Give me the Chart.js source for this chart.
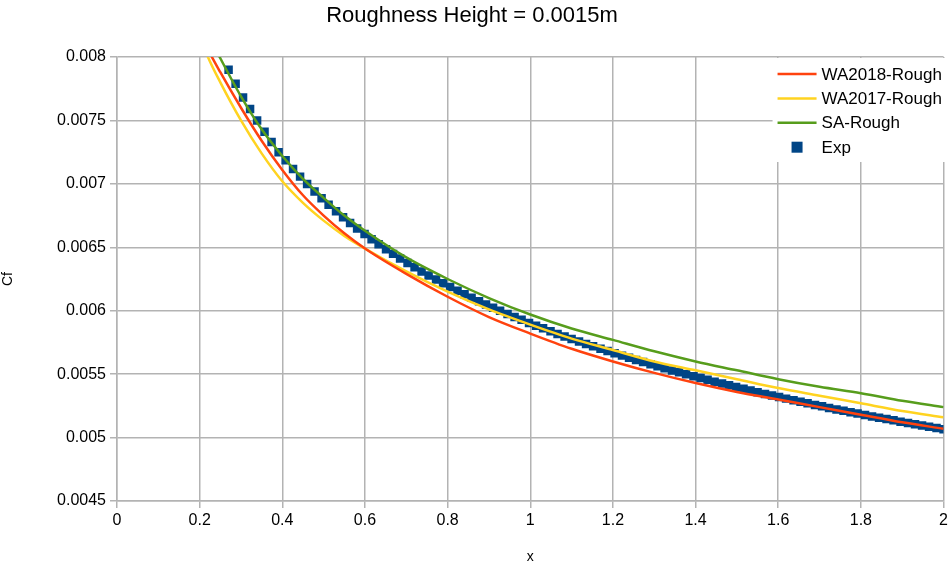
<!DOCTYPE html>
<html lang="fr">
<head>
<meta charset="utf-8">
<title>Roughness Height = 0.0015m</title>
<script src="https://cdn.jsdelivr.net/npm/chart.js@4.4.1/dist/chart.umd.min.js"></script>
<style>
  html, body { margin: 0; padding: 0; background: #ffffff; }
  #conteneur { width: 951px; height: 569px; }
</style>
</head>
<body>
<div id="conteneur"><canvas id="myChartCf" width="951" height="569"></canvas></div>
<script>
//? Courbes Cf des modèles (même abscisse pour les trois).

const curveX = [0.2, 0.22, 0.25, 0.3, 0.35, 0.4, 0.45, 0.5, 0.55, 0.6, 0.7, 0.8,
  0.9, 1.0, 1.1, 1.2, 1.3, 1.4, 1.5, 1.6, 1.7, 1.8, 1.9, 2.0];

const cfWA2018 = [0.00820, 0.00806, 0.00788, 0.00760, 0.00734, 0.00711, 0.00691, 0.00675,
  0.00661, 0.00649, 0.00629, 0.00611, 0.00595, 0.00582, 0.00570, 0.00560, 0.00551, 0.00543,
  0.00536, 0.00530, 0.00524, 0.00518, 0.00512, 0.00507];

const cfWA2017 = [0.00817, 0.00800, 0.00780, 0.00750, 0.00724, 0.00702, 0.00685, 0.00671,
  0.00659, 0.00649, 0.00631, 0.00615, 0.00601, 0.00589, 0.00578, 0.00569, 0.00560, 0.00553,
  0.00546, 0.00539, 0.00533, 0.00527, 0.00521, 0.00516];

const cfSA = [0.00832, 0.00818, 0.00799, 0.00769, 0.00743, 0.00722, 0.00704, 0.00689,
  0.00675, 0.00663, 0.00642, 0.00625, 0.00610, 0.00597, 0.00586, 0.00577, 0.00568, 0.00560,
  0.00553, 0.00546, 0.00540, 0.00535, 0.00529, 0.00524];

//? Points expérimentaux.

const expX = [0.270, 0.287, 0.305, 0.322, 0.339, 0.357, 0.374, 0.391, 0.408, 0.426,
  0.443, 0.460, 0.478, 0.495, 0.512, 0.530, 0.547, 0.564, 0.581, 0.599,
  0.616, 0.633, 0.651, 0.668, 0.685, 0.703, 0.720, 0.737, 0.754, 0.772,
  0.789, 0.806, 0.824, 0.841, 0.858, 0.876, 0.893, 0.910, 0.927, 0.945,
  0.962, 0.979, 0.997, 1.014, 1.031, 1.049, 1.066, 1.083, 1.100, 1.118,
  1.135, 1.152, 1.170, 1.187, 1.204, 1.222, 1.239, 1.256, 1.273, 1.291,
  1.308, 1.325, 1.343, 1.360, 1.377, 1.395, 1.412, 1.429, 1.446, 1.464,
  1.481, 1.498, 1.516, 1.533, 1.550, 1.568, 1.585, 1.602, 1.619, 1.637,
  1.654, 1.671, 1.689, 1.706, 1.723, 1.741, 1.758, 1.775, 1.792, 1.810,
  1.827, 1.844, 1.862, 1.879, 1.896, 1.914, 1.931, 1.948, 1.965, 1.983, 2.000];

const expCf = [0.00790, 0.00779, 0.00768, 0.00759, 0.00750, 0.00741, 0.00733, 0.00725, 0.007186, 0.007118,
  0.007057, 0.006999, 0.006940, 0.006887, 0.006836, 0.006784, 0.006737, 0.006692, 0.006649, 0.006604,
  0.006564, 0.006524, 0.006484, 0.006448, 0.006412, 0.006376, 0.006343, 0.006310, 0.006278, 0.006246,
  0.006216, 0.006187, 0.006157, 0.006129, 0.006102, 0.006074, 0.006049, 0.006024, 0.005999, 0.005974,
  0.005950, 0.005928, 0.005904, 0.005882, 0.005861, 0.005838, 0.005817, 0.005797, 0.005777, 0.005757,
  0.005738, 0.005719, 0.005700, 0.005682, 0.005664, 0.005646, 0.005629, 0.005612, 0.005595, 0.005578,
  0.005562, 0.005546, 0.005529, 0.005514, 0.005499, 0.005483, 0.005469, 0.005455, 0.005440, 0.005426,
  0.005412, 0.005398, 0.005384, 0.005371, 0.005358, 0.005344, 0.005331, 0.005319, 0.005307, 0.005294,
  0.005282, 0.005270, 0.005257, 0.005246, 0.005234, 0.005222, 0.005211, 0.005200, 0.005190, 0.005178,
  0.005167, 0.005157, 0.005146, 0.005136, 0.005125, 0.005115, 0.005105, 0.005095, 0.005085, 0.005075, 0.005066];

//? Graduations des axes.

const xTicks = [0, 0.2, 0.4, 0.6, 0.8, 1, 1.2, 1.4, 1.6, 1.8, 2];
const yTicks = [0.0045, 0.005, 0.0055, 0.006, 0.0065, 0.007, 0.0075, 0.008];

//? -------------------------------------------------

const toPoints = (xs, ys) => xs.map((x, i) => ({ x: x, y: ys[i] }));

const policeGraphique = "'Liberation Sans', Arial, sans-serif";
const couleurGrille = "#b3b3b3";

//? Légende dessinée dans le coin haut droit de la zone de tracé.

const legendeInterne = {
  id: "legendeInterne",
  afterDraw(chart) {
    const { ctx, chartArea } = chart;
    const gauche = chartArea.right - 171;
    ctx.save();
    ctx.fillStyle = "#ffffff";
    ctx.fillRect(gauche, chartArea.top + 1, 951 - gauche, 104);
    ctx.font = "17px " + policeGraphique;
    ctx.textBaseline = "middle";
    chart.data.datasets.forEach((ds, i) => {
      const y = chartArea.top + 17 + i * 24.4;
      if (ds.showLine) {
        ctx.strokeStyle = ds.borderColor;
        ctx.lineWidth = 2.5;
        ctx.beginPath();
        ctx.moveTo(gauche + 5, y);
        ctx.lineTo(gauche + 44, y);
        ctx.stroke();
      } else {
        ctx.fillStyle = ds.backgroundColor;
        ctx.fillRect(gauche + 19, y - 5.5, 11, 11);
      }
      ctx.fillStyle = "#000000";
      ctx.fillText(ds.label, gauche + 49, y + 1);
    });
    ctx.restore();
  },
};

//? Construction du graphique Cf.

const constructionGraphiqueCf = () => {
  try {
    const ctxCf = document.getElementById("myChartCf").getContext("2d");

    const ligne = (label, couleur, ys) => ({
      label: label,
      data: toPoints(curveX, ys),
      showLine: true,
      borderColor: couleur,
      backgroundColor: couleur,
      borderWidth: 2.5,
      pointRadius: 0,
      cubicInterpolationMode: "monotone",
    });

    const data = {
      datasets: [
        ligne("WA2018-Rough", "#ff420e", cfWA2018),
        ligne("WA2017-Rough", "#ffd320", cfWA2017),
        ligne("SA-Rough", "#579d1c", cfSA),
        {
          label: "Exp",
          data: toPoints(expX, expCf),
          showLine: false,
          pointStyle: "rect",
          pointRadius: 6,
          pointBorderWidth: 0,
          borderColor: "#004586",
          backgroundColor: "#004586",
        },
      ],
    };

    const axeGrille = {
      color: couleurGrille,
      lineWidth: 1.5,
      tickLength: 7,
      tickColor: couleurGrille,
    };

    const options = {
      responsive: false,
      animation: false,
      layout: { padding: { right: 7 } },
      plugins: {
        legend: { display: false },
        tooltip: { enabled: false },
        title: {
          display: true,
          text: "Roughness Height = 0.0015m",
          color: "#000000",
          font: { size: 22, weight: "normal", family: policeGraphique },
          padding: { top: 3, bottom: 27.6 },
        },
      },
      scales: {
        x: {
          type: "linear",
          min: 0,
          max: 2,
          afterBuildTicks: (axis) => {
            axis.ticks = xTicks.map((v) => ({ value: v }));
          },
          afterFit: (scale) => {
            scale.height = 68;
          },
          ticks: {
            color: "#000000",
            font: { size: 16, family: policeGraphique },
            padding: 3,
            maxRotation: 0,
            callback: (v) => String(v),
          },
          grid: axeGrille,
          border: { color: couleurGrille, width: 1.5 },
          title: {
            display: true,
            text: "x",
            color: "#000000",
            font: { size: 14, family: policeGraphique },
            padding: { top: 0, bottom: 3.6 },
          },
        },
        y: {
          type: "linear",
          min: 0.0045,
          max: 0.008,
          afterBuildTicks: (axis) => {
            axis.ticks = yTicks.map((v) => ({ value: v }));
          },
          afterFit: (scale) => {
            scale.width = 117;
          },
          ticks: {
            color: "#000000",
            font: { size: 16, family: policeGraphique },
            padding: 4,
            callback: (v) => String(v),
          },
          grid: axeGrille,
          border: { color: couleurGrille, width: 1.5 },
          title: {
            display: true,
            text: "Cf",
            color: "#000000",
            font: { size: 14, family: policeGraphique },
            padding: { top: 0, bottom: 0 },
          },
        },
      },
    };

    new Chart(ctxCf, {
      type: "scatter",
      data,
      options,
      plugins: [legendeInterne],
    });
  } catch (error) {
    console.log("🔴 ERREUR | Construction graphique Cf :", error);
  }
};

constructionGraphiqueCf();
</script>
</body>
</html>
